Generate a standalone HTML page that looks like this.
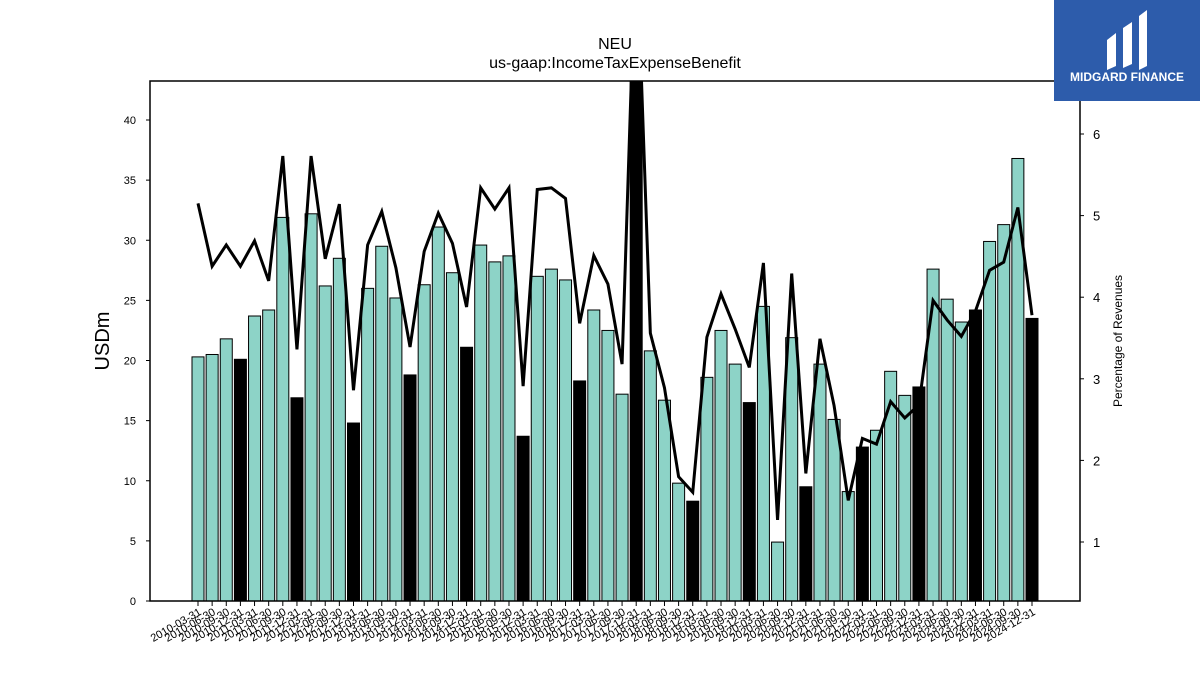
<!DOCTYPE html>
<html><head><meta charset="utf-8"><style>
body{margin:0;background:#fff;width:1200px;height:675px;overflow:hidden;font-family:"Liberation Sans",sans-serif}
svg{display:block}
</style></head><body>
<svg id="chart" width="1200" height="675" xmlns="http://www.w3.org/2000/svg" font-family="Liberation Sans, sans-serif">
<text x="615" y="49" font-size="16" text-anchor="middle">NEU</text>
<text x="615" y="68" font-size="16" text-anchor="middle">us-gaap:IncomeTaxExpenseBenefit</text>
<text transform="translate(109,341) rotate(-90)" font-size="20" text-anchor="middle">USDm</text>
<text transform="translate(1122,341) rotate(-90)" font-size="12" text-anchor="middle">Percentage of Revenues</text>
<g id="plot"></g>
<g>
<rect x="1054" y="0" width="146" height="101" fill="#2d5cab"/>
<path d="M1107 40 L1116 33 L1116 66 L1107 70 Z M1123 28 L1132 22 L1132 64 L1123 68 Z M1139 16 L1147 10 L1147 66 L1139 70 Z" fill="#fff"/>
<text x="1127" y="81" font-size="12" font-weight="bold" fill="#fff" text-anchor="middle">MIDGARD FINANCE</text>
</g>
</svg>
<script>
const values=[20.3,20.5,21.8,20.1,23.7,24.2,31.9,16.9,32.2,26.2,28.5,14.8,26.0,29.5,25.2,18.8,26.3,31.1,27.3,21.1,29.6,28.2,28.7,13.7,27.0,27.6,26.7,18.3,24.2,22.5,17.2,60,20.8,16.7,9.8,8.3,18.6,22.5,19.7,16.5,24.5,4.9,21.9,9.5,19.7,15.1,9.1,12.8,14.2,19.1,17.1,17.8,27.6,25.1,23.2,24.2,29.9,31.3,36.8,23.5];
const pct=[5.15,4.38,4.64,4.38,4.69,4.20,5.73,3.36,5.73,4.47,5.14,2.86,4.64,5.05,4.36,3.39,4.56,5.03,4.66,3.88,5.34,5.08,5.34,2.91,5.32,5.34,5.21,3.68,4.51,4.16,3.18,8.5,3.56,2.89,1.80,1.61,3.51,4.04,3.61,3.14,4.42,1.27,4.29,1.84,3.49,2.67,1.51,2.27,2.20,2.72,2.52,2.68,3.96,3.72,3.52,3.83,4.33,4.43,5.10,3.78];
const leftTicks=[0,5,10,15,20,25,30,35,40];
const rightTicks=[1,2,3,4,5,6];
const qEnds=["03-31","06-30","09-30","12-31"];
const startYear=2010;
const NS="http://www.w3.org/2000/svg";
const L=150,R=1080,T=81,B=601;
const x=i=>198+i*(1032-198)/(values.length-1);
const y=v=>601-v*12.025;
const y2=v=>623.6-v*81.6;
const g=document.getElementById('plot');
function mk(t,a){const e=document.createElementNS(NS,t);for(const k in a)e.setAttribute(k,a[k]);return e;}
const defs=mk('defs',{});const cp=mk('clipPath',{id:'c'});cp.appendChild(mk('rect',{x:L,y:T,width:R-L,height:B-T}));defs.appendChild(cp);g.appendChild(defs);
const bars=mk('g',{'clip-path':'url(#c)'});


g.appendChild(bars);
values.forEach((v,i)=>{
 const r=mk('rect',{x:x(i)-6,y:y(v),width:12,height:B-y(v),fill:(i%4==3)?'#000':'#8dd3c7',stroke:'#000','stroke-width':1});
 
 
 bars.appendChild(r);
});
const line=mk('polyline',{points:pct.map((p,i)=>x(i)+','+y2(p)).join(' '),fill:'none',stroke:'#000','stroke-width':3,'stroke-linejoin':'miter'});


bars.appendChild(line);
const frame=mk('rect',{x:L,y:T,width:R-L,height:B-T,fill:'none',stroke:'#000','stroke-width':1.5});


g.appendChild(frame);
leftTicks.forEach(t=>{
 g.appendChild(mk('line',{x1:L-4,x2:L,y1:y(t),y2:y(t),stroke:'#000'}));
 const tx=mk('text',{x:L-14,y:y(t)+4,'font-size':11,'text-anchor':'end'});tx.textContent=t;
 
 
 g.appendChild(tx);
});
rightTicks.forEach(t=>{
 g.appendChild(mk('line',{x1:R,x2:R+4,y1:y2(t),y2:y2(t),stroke:'#000'}));
 const tx=mk('text',{x:R+13,y:y2(t)+5,'font-size':13});tx.textContent=t;
 
 
 g.appendChild(tx);
});
values.forEach((v,i)=>{
 const xx=x(i);
 g.appendChild(mk('line',{x1:xx,x2:xx,y1:B,y2:B+5,stroke:'#000'}));
 const tx=mk('text',{transform:`translate(${xx+4},${B+13}) rotate(-30)`,'font-size':11,'text-anchor':'end'});
 tx.textContent=(startYear+Math.floor(i/4))+'-'+qEnds[i%4];
 
 
 g.appendChild(tx);
});
</script>
</body></html>
